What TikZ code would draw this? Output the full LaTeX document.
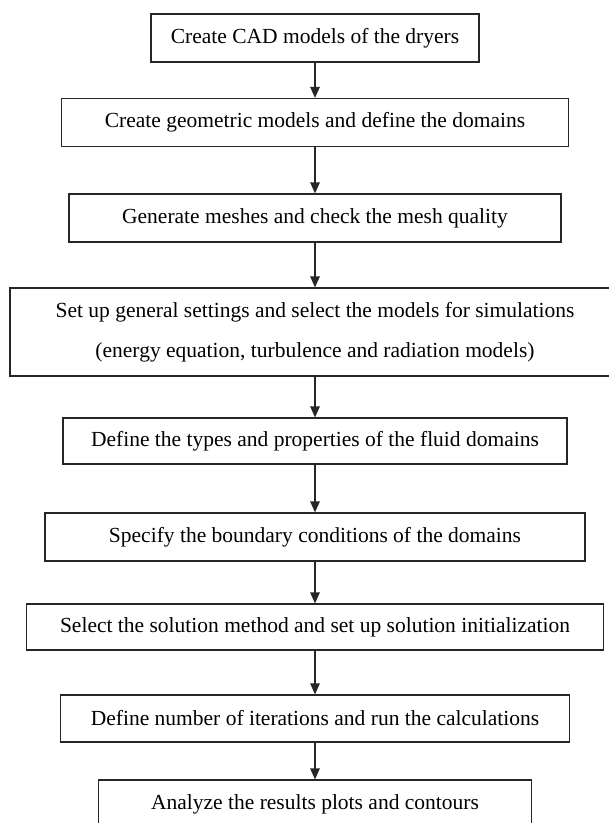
\documentclass[tikz,border=0pt]{standalone}
\usepackage{fontspec}
\setmainfont{Liberation Serif}
\usetikzlibrary{arrows.meta}
\begin{document}
\begin{tikzpicture}[x=1pt,y=-1pt,
  stepbox/.style={draw=black!85, line width=1.2pt, inner sep=0pt,
    font=\fontsize{21.5}{40}\selectfont, align=center},
  flow/.style={draw=black!85, line width=1.2pt,
    -{Triangle[length=11pt,width=9.5pt]}}]
\useasboundingbox (0,0) rectangle (609,823);
\node[stepbox, minimum width=328pt, minimum height=48pt] (s1) at (315,38) {Create CAD models of the dryers};
\node[stepbox, minimum width=507pt, minimum height=48pt] (s2) at (315,122.5) {Create geometric models and define the domains};
\node[stepbox, minimum width=492pt, minimum height=48pt] (s3) at (315,218) {Generate meshes and check the mesh quality};
\node[stepbox, minimum width=610pt, minimum height=88pt] (s4) at (315,332) {Set up general settings and select the models for simulations\\(energy equation, turbulence and radiation models)};
\node[stepbox, minimum width=504pt, minimum height=46pt] (s5) at (315,441) {Define the types and properties of the fluid domains};
\node[stepbox, minimum width=540pt, minimum height=48pt] (s6) at (315,537) {Specify the boundary conditions of the domains};
\node[stepbox, minimum width=577pt, minimum height=46pt] (s7) at (315,627) {Select the solution method and set up solution initialization};
\node[stepbox, minimum width=509pt, minimum height=47pt] (s8) at (315,718.5) {Define number of iterations and run the calculations};
\node[stepbox, minimum width=433pt, minimum height=48pt] (s9) at (315,804) {Analyze the results plots and contours};
\foreach \a/\b in {s1/s2,s2/s3,s3/s4,s4/s5,s5/s6,s6/s7,s7/s8,s8/s9}
  \draw[flow] (\a.south) -- (\b.north);
\end{tikzpicture}
\end{document}
